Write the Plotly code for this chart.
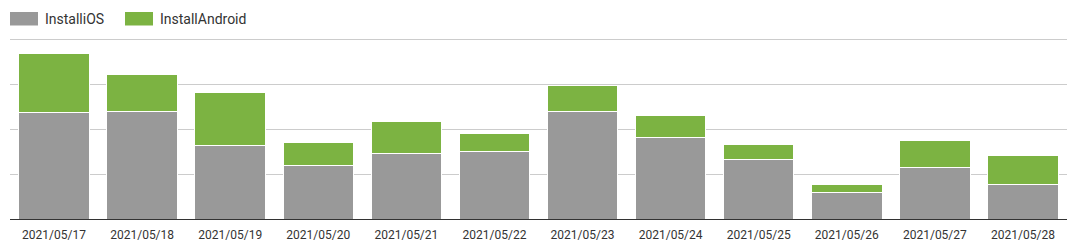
import plotly.graph_objects as go

dates = ["2021/05/17", "2021/05/18", "2021/05/19", "2021/05/20", "2021/05/21", "2021/05/22",
         "2021/05/23", "2021/05/24", "2021/05/25", "2021/05/26", "2021/05/27", "2021/05/28"]
install_ios = [237, 239, 163, 120, 147, 151, 239, 183, 132, 60, 116, 76]
install_android = [133, 84, 119, 50, 70, 40, 60, 48, 34, 18, 59, 65]
series_names = ["InstalliOS", "InstallAndroid"]
colors = ["#999999", "#7cb342"]

W, H = 1075, 252
ML, MR, MT, MB = 10, 8, 38, 33
pw, ph = W - ML - MR, H - MT - MB

fig = go.Figure()
for name, vals, col in zip(series_names, [install_ios, install_android], colors):
    fig.add_trace(go.Bar(x=dates, y=vals, name=name, marker=dict(color=col, line=dict(color="white", width=1)),
                         showlegend=False))

def px2paper_x(px):
    return (px - ML) / pw

def px2paper_y(py):
    return (H - MB - py) / ph

# custom legend (wide swatches)
legend_items = [(10, 38, 43), (125, 153, 158)]
shapes = []
annotations = []
for (x0, x1, tx), name, col in zip(legend_items, series_names, colors):
    shapes.append(dict(type="rect", xref="paper", yref="paper",
                       x0=px2paper_x(x0), x1=px2paper_x(x1),
                       y0=px2paper_y(25.5), y1=px2paper_y(12),
                       fillcolor=col, line=dict(width=0)))
    annotations.append(dict(xref="paper", yref="paper", x=px2paper_x(tx), y=px2paper_y(19),
                            xanchor="left", yanchor="middle", text=name, showarrow=False,
                            font=dict(family="Roboto", size=14, color="#333333")))

fig.update_layout(
    width=W, height=H, barmode="stack", bargap=0.2,
    margin=dict(l=ML, r=MR, t=MT, b=MB),
    paper_bgcolor="white", plot_bgcolor="white",
    font=dict(family="Roboto", size=12, color="#333333"),
    shapes=shapes, annotations=annotations,
    xaxis=dict(showline=True, linecolor="#333333", linewidth=1, showgrid=False, ticks="",
               ticklabelstandoff=5,
               tickfont=dict(family="Roboto", size=12, color="#333333"), fixedrange=True),
    yaxis=dict(range=[0, 404], tick0=0, dtick=100, showticklabels=False, showgrid=True, gridcolor="#cccccc",
               gridwidth=1, zeroline=False, fixedrange=True),
)

fig.write_html("out.html")
